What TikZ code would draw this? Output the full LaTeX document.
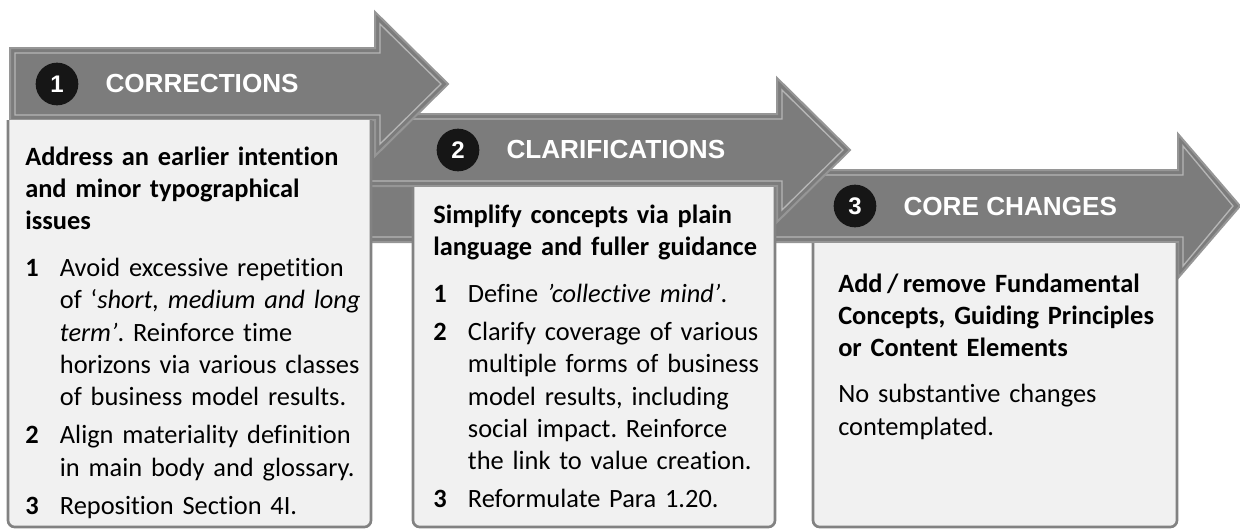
\documentclass[tikz,border=0pt]{standalone}
\usepackage{fontspec}
\setmainfont[Ligatures=NoCommon]{Carlito}
\newfontfamily\headfont{Liberation Sans}
\usetikzlibrary{positioning}

\definecolor{arrowfill}{RGB}{124,124,124}
\definecolor{arrowrim}{RGB}{150,150,150}
\definecolor{arrowlight}{RGB}{182,182,182}
\definecolor{boxfill}{RGB}{241,241,241}
\definecolor{boxline}{RGB}{130,130,130}
\definecolor{numfill}{RGB}{22,22,22}

% #1 left end, #2 centre line, #3 start of head, #4 head length
\newcommand{\procarrow}[4]{%
  \path[arrowbody] (#1,#2-36) -- (#3,#2-36) -- (#3,#2-72) -- (#3+#4,#2)
    -- (#3,#2+72) -- (#3,#2+36) -- (#1,#2+36) -- cycle;
  \draw[arrowbevel] (#1+5,#2-31) -- (#3+5,#2-31) -- (#3+5,#2-60) -- (#3+#4-7,#2)
    -- (#3+5,#2+60) -- (#3+5,#2+31) -- (#1+5,#2+31) -- cycle;
}
% numbered line with hanging indent
\newcommand{\numitem}[2]{\hangindent=26pt\hangafter=1\noindent
  \makebox[26pt][l]{\textbf{#1}}#2\par}

\begin{document}
\frenchspacing
\begin{tikzpicture}
  [x=0.75pt, y=-0.75pt,
   arrowbody/.style={fill=arrowfill, draw=arrowrim, line width=1.5pt},
   arrowbevel/.style={draw=arrowlight, line width=1pt},
   panel/.style={fill=boxfill, draw=boxline, line width=2pt},
   paneltext/.style={anchor=base west, inner sep=0pt, text width=255pt,
     align=left, font=\fontsize{19.8}{24.2}\selectfont},
   badge/.style={circle, fill=numfill, text=white, minimum size=32pt,
     inner sep=0pt, font=\headfont\bfseries\fontsize{18}{18}\selectfont},
   banner/.style={inner sep=0pt, text=white,
     font=\headfont\bfseries\fontsize{19.6}{20}\selectfont}]
  \useasboundingbox (0,0) rectangle (1240,529);

  % step 3 at the back
  \procarrow{10}{206}{1178}{62}
  \path[panel] (813,243) [rounded corners=5pt] -- (813,527) -- (1177,527) -- (1177,243);

  % step 2
  \procarrow{10}{150}{777}{73}
  \path[panel] (413,187) [rounded corners=5pt] -- (413,527) -- (775,527) -- (775,187);

  % step 1 in front
  \procarrow{10}{84}{375}{73}
  \path[panel] (8,120) [rounded corners=5pt] -- (8,527) -- (371,527) -- (371,120);

  % headers
  \node[badge] (num1) at (57,84) {1};
  \node[banner, right=20pt of num1] (head1) {CORRECTIONS};
  \node[badge] (num2) at (458,150) {2};
  \node[banner, right=20pt of num2] (head2) {CLARIFICATIONS};
  \node[badge] (num3) at (855,206) {3};
  \node[banner, right=20pt of num3] (head3) {CORE CHANGES};

  % panel texts
  \node[paneltext] (text1) at (25,165) {%
    \textbf{Address an earlier intention\newline and minor typographical\newline issues}\par
    \vspace{11pt}
    \numitem{1}{Avoid excessive repetition\newline of ‘\textit{short, medium and long}\newline
      \textit{term’}. Reinforce time\newline horizons via various classes\newline
      of business model results.}
    \vspace{4.5pt}
    \numitem{2}{Align materiality definition\newline in main body and glossary.}
    \vspace{4.5pt}
    \numitem{3}{Reposition Section 4I.}};

  \node[paneltext] (text2) at (433,223) {%
    \textbf{Simplify concepts via plain\newline language and fuller guidance}\par
    \vspace{11pt}
    \numitem{1}{Define \textit{’collective mind’}.}
    \vspace{4.5pt}
    \numitem{2}{Clarify coverage of various\newline multiple forms of business\newline
      model results, including\newline social impact. Reinforce\newline
      the link to value creation.}
    \vspace{4.5pt}
    \numitem{3}{Reformulate Para 1.20.}};

  \node[paneltext] (text3) at (838,292) {%
    \textbf{Add\,/\,remove Fundamental\newline Concepts, Guiding Principles\newline
      or Content Elements}\par
    \vspace{10.5pt}
    No substantive changes\newline contemplated.};
\end{tikzpicture}
\end{document}
